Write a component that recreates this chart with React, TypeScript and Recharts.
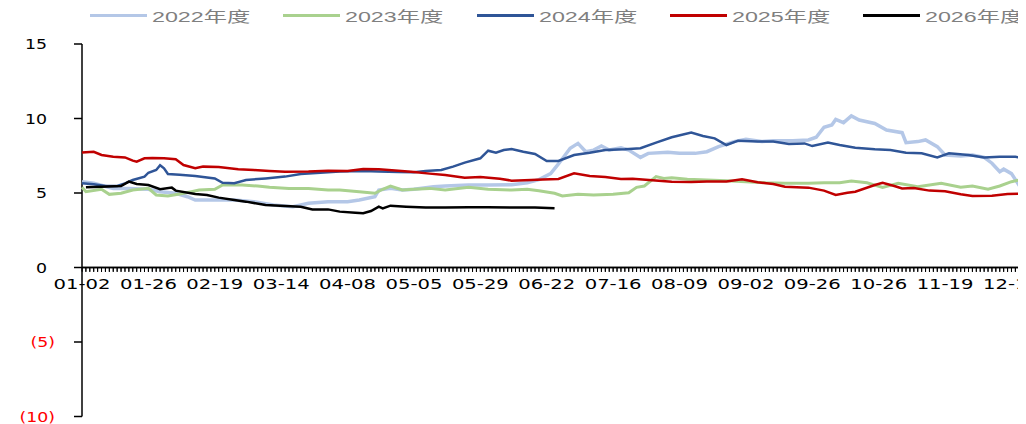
import React from 'react';
import { LineChart, Line, XAxis, YAxis } from 'recharts';

// ---- categories / ticks ----
const dateLabels = ['01-02', '01-26', '02-19', '03-14', '04-08', '05-05', '05-29', '06-22', '07-16', '08-09', '09-02', '09-26', '10-26', '11-19', '12-13'];
const labelStep = 17; // trading days between labels
const dayCount = 243; // trading-day index range
const yTicks = [-10, -5, 0, 5, 10, 15];
const yDomain: [number, number] = [-10, 15];
const yUpper: [number, number] = [0, 15];

const seriesNames = ['2022年度', '2023年度', '2024年度', '2025年度', '2026年度'];
const seriesColors = ['#B4C7E7', '#A9D18E', '#2F5597', '#C00000', '#000000'];
const seriesWidths = [3.5, 3, 2.5, 2.5, 2.5];

// ---- series values: [trading-day index, value] ----
const s2022: [number, number][] = [
  [0, 5.76], [3, 5.65], [8, 5.31], [12, 5.31], [17, 5.25], [20, 5.09], [24, 4.98], [27, 4.75], [29, 4.53], [34, 4.53],
  [39, 4.53], [44, 4.42], [49, 4.19], [54, 4.08], [58, 4.31], [63, 4.42], [68, 4.42], [71, 4.53], [75, 4.75], [76, 5.2],
  [79, 5.31], [82, 5.2], [85, 5.25], [90, 5.42], [93, 5.47], [99, 5.54], [104, 5.54], [110, 5.56], [114, 5.69], [117, 5.9],
  [120, 6.3], [122, 6.95], [125, 8.0], [127, 8.33], [129, 7.77], [131, 7.88], [133, 8.15], [135, 7.88], [138, 8.04], [140, 7.88],
  [143, 7.39], [145, 7.66], [150, 7.73], [153, 7.66], [157, 7.66], [160, 7.77], [163, 8.11], [167, 8.45], [170, 8.6], [174, 8.45],
  [177, 8.51], [182, 8.51], [186, 8.56], [188, 8.74], [190, 9.41], [192, 9.56], [193, 9.94], [195, 9.72], [197, 10.17], [199, 9.9],
  [203, 9.67], [206, 9.23], [210, 9.05], [211, 8.38], [214, 8.45], [216, 8.56], [219, 8.11], [221, 7.55], [225, 7.48], [228, 7.55],
  [231, 7.39], [233, 7.0], [235, 6.43], [236, 6.6], [238, 6.3], [240, 5.5], [241, 5.31], [242, 5.31],
];
const s2023: [number, number][] = [
  [0, 5.38], [1, 5.09], [5, 5.25], [7, 4.91], [10, 4.98], [13, 5.2], [17, 5.31], [19, 4.87], [22, 4.8], [25, 4.93],
  [28, 5.09], [30, 5.2], [34, 5.25], [36, 5.54], [41, 5.54], [45, 5.47], [48, 5.38], [53, 5.31], [58, 5.31], [63, 5.2],
  [66, 5.2], [71, 5.09], [75, 4.98], [77, 5.25], [79, 5.47], [82, 5.2], [85, 5.25], [89, 5.31], [93, 5.2], [99, 5.38],
  [104, 5.25], [110, 5.2], [114, 5.25], [117, 5.15], [121, 4.98], [123, 4.8], [127, 4.91], [131, 4.87], [136, 4.91], [140, 5.02],
  [142, 5.38], [144, 5.47], [147, 6.1], [149, 5.98], [151, 6.03], [155, 5.92], [160, 5.87], [165, 5.83], [170, 5.76], [175, 5.69],
  [180, 5.65], [186, 5.65], [190, 5.69], [194, 5.69], [197, 5.8], [201, 5.69], [205, 5.38], [209, 5.65], [214, 5.42], [220, 5.65],
  [225, 5.38], [228, 5.47], [232, 5.25], [235, 5.47], [238, 5.76], [240, 5.87], [242, 5.69],
];
const s2024: [number, number][] = [
  [0, 5.65], [3, 5.58], [6, 5.47], [9, 5.47], [11, 5.65], [13, 5.87], [16, 6.1], [17, 6.36], [19, 6.54], [20, 6.86],
  [21, 6.66], [22, 6.28], [25, 6.23], [29, 6.14], [34, 5.98], [36, 5.69], [39, 5.65], [42, 5.87], [47, 5.98], [52, 6.1],
  [56, 6.28], [59, 6.32], [63, 6.39], [66, 6.45], [72, 6.48], [76, 6.45], [81, 6.41], [85, 6.39], [88, 6.48], [92, 6.54],
  [95, 6.77], [98, 7.04], [102, 7.33], [104, 7.84], [106, 7.7], [108, 7.88], [110, 7.95], [113, 7.77], [116, 7.62], [119, 7.15],
  [122, 7.15], [126, 7.55], [130, 7.7], [134, 7.88], [139, 7.93], [143, 8.0], [147, 8.38], [151, 8.74], [156, 9.05], [159, 8.83],
  [162, 8.67], [165, 8.22], [168, 8.51], [173, 8.45], [177, 8.45], [181, 8.29], [185, 8.33], [187, 8.15], [191, 8.38], [194, 8.22],
  [198, 8.04], [203, 7.93], [207, 7.88], [211, 7.7], [215, 7.66], [219, 7.39], [222, 7.66], [227, 7.55], [231, 7.39], [235, 7.43],
  [239, 7.43], [242, 7.28],
];
const s2025: [number, number][] = [
  [0, 7.71], [3, 7.77], [5, 7.55], [8, 7.44], [11, 7.39], [13, 7.17], [14, 7.1], [16, 7.33], [18, 7.35], [21, 7.33],
  [24, 7.26], [26, 6.88], [29, 6.66], [31, 6.77], [35, 6.74], [40, 6.59], [44, 6.54], [48, 6.48], [52, 6.43], [58, 6.45],
  [63, 6.5], [68, 6.48], [72, 6.61], [76, 6.59], [81, 6.5], [85, 6.41], [89, 6.3], [93, 6.21], [98, 6.03], [102, 6.07],
  [107, 5.96], [110, 5.83], [115, 5.87], [118, 5.9], [122, 5.94], [126, 6.32], [130, 6.14], [134, 6.07], [138, 5.94], [141, 5.96],
  [146, 5.85], [151, 5.76], [156, 5.74], [160, 5.78], [165, 5.78], [169, 5.92], [173, 5.72], [177, 5.6], [180, 5.42], [186, 5.36],
  [190, 5.16], [193, 4.87], [196, 5.02], [198, 5.09], [203, 5.54], [205, 5.69], [208, 5.47], [210, 5.31], [213, 5.34], [217, 5.16],
  [221, 5.11], [225, 4.91], [228, 4.8], [233, 4.82], [237, 4.93], [242, 4.98],
];
const s2026: [number, number][] = [
  [1, 5.38], [5, 5.42], [10, 5.47], [12, 5.76], [14, 5.6], [17, 5.54], [20, 5.25], [23, 5.36], [24, 5.16], [29, 4.93],
  [32, 4.87], [35, 4.69], [39, 4.53], [42, 4.42], [47, 4.19], [52, 4.13], [56, 4.08], [59, 3.9], [63, 3.9], [66, 3.75],
  [70, 3.68], [72, 3.64], [74, 3.79], [76, 4.08], [77, 3.97], [79, 4.15], [83, 4.08], [88, 4.02], [93, 4.02], [99, 4.04],
  [104, 4.04], [110, 4.02], [116, 4.02], [121, 3.97],
];

const allSeries = [s2022, s2023, s2024, s2025, s2026];
const toRows = (pts: [number, number][]) => pts.map(([d, v]) => ({ d, v }));
const xTicks = Array.from({ length: dayCount + 1 }, (_, i) => i);
// category axis baseline (value 0 at every trading day), drawn through the chart scales
const axisRows = xTicks.map((d) => ({ d, v: 0 }));

const FONT = "'DejaVu Sans', Verdana, sans-serif";
const LEGEND_FONT = "'Liberation Sans', Arial, 'Noto Sans CJK SC', sans-serif";
const W = 1040;
const H = 416;
const LEFT = 74;
const RIGHT = 17;
const TOP = 36;
const BOTTOM = 7.5;
// the upper chart ends exactly where the value 0 sits in the full chart
const PLOT_H = H - TOP - BOTTOM;
const ZERO_Y = TOP + (PLOT_H * (yDomain[1] - 0)) / (yDomain[1] - yDomain[0]);
const X_AXIS_H = 40;
const H_UPPER = 300;

const XTick = (props: any) => {
  const { x, y, payload } = props;
  const i = payload.value as number;
  const label = i % labelStep === 0 ? dateLabels[i / labelStep] : undefined;
  if (!label) return <g />;
  return (
    <g transform={`translate(${x},${y})`}>
      <text transform="scale(1.4,1)" textAnchor="middle" dy={16} fontSize={14} fill="#000" fontFamily={FONT}>
        {label}
      </text>
    </g>
  );
};

const YTick = (props: any) => {
  const { x, y, payload } = props;
  const v = payload.value as number;
  const neg = v < 0;
  const text = neg ? `(${-v})` : `${v}`;
  return (
    <g transform={`translate(${x + (neg ? -17 : -25)},${y})`}>
      <text transform="scale(1.24,1)" textAnchor="end" dy="0.36em" fontSize={14} fill={neg ? '#FF0000' : '#000'} fontFamily={FONT}>
        {text}
      </text>
    </g>
  );
};

const TickMark = (props: any) => {
  const { cx, cy, index } = props;
  if (cx == null || cy == null) return <g key={`tm-${index}`} />;
  return <path key={`tm-${index}`} d={`M${cx},${cy}v4.5`} stroke="#000" strokeWidth={1} fill="none" />;
};

export default function App() {
  return (
    <div style={{ position: 'relative', width: 1018, height: H, overflow: 'hidden', background: '#fff' }}>
      {/* full-range value axis + category-axis baseline at 0 */}
      <div style={{ position: 'absolute', left: 0, top: 0 }}>
        <LineChart width={W} height={H} margin={{ top: TOP, right: RIGHT, left: 0, bottom: BOTTOM }}>
          <XAxis type="number" dataKey="d" domain={[0, dayCount]} hide allowDataOverflow />
          <YAxis
            type="number"
            domain={yDomain}
            ticks={yTicks}
            interval={0}
            width={LEFT}
            tickSize={8}
            axisLine={{ stroke: '#000', strokeWidth: 1.5 }}
            tickLine={{ stroke: '#000', strokeWidth: 1.5 }}
            tick={<YTick />}
            allowDataOverflow
          />
          <Line
            data={axisRows}
            dataKey="v"
            name="axis"
            stroke="#000"
            strokeWidth={1.5}
            dot={TickMark}
            activeDot={false}
            legendType="none"
            type="linear"
            isAnimationActive={false}
          />
        </LineChart>
      </div>
      {/* series + category labels crossing at 0 */}
      <div style={{ position: 'absolute', left: 0, top: 0 }}>
        <LineChart width={W} height={H_UPPER} margin={{ top: TOP, right: RIGHT, left: LEFT, bottom: H_UPPER - ZERO_Y - X_AXIS_H }}>
          <XAxis
            type="number"
            dataKey="d"
            domain={[0, dayCount]}
            ticks={xTicks}
            interval={0}
            height={X_AXIS_H}
            tickSize={4}
            axisLine={{ stroke: '#000', strokeWidth: 1.5 }}
            tickLine={{ stroke: '#000', strokeWidth: 1 }}
            tick={<XTick />}
          />
          <YAxis type="number" domain={yUpper} hide />
          {allSeries.map((s, k) => (
            <Line
              key={seriesNames[k]}
              data={toRows(s)}
              dataKey="v"
              name={seriesNames[k]}
              stroke={seriesColors[k]}
              strokeWidth={seriesWidths[k]}
              dot={false}
              type="linear"
              isAnimationActive={false}
            />
          ))}
        </LineChart>
      </div>
      {/* legend */}
      {seriesNames.map((name, k) => (
        <div
          key={name}
          style={{ position: 'absolute', left: 82 + k * 193.3, top: -3, height: 20, display: 'flex', alignItems: 'center' }}
        >
          <div style={{ width: 57, height: 3, background: seriesColors[k] }} />
          <span
            style={{
              marginLeft: 5,
              fontSize: 15,
              color: '#7F7F7F',
              fontFamily: LEGEND_FONT,
              display: 'inline-block',
              whiteSpace: 'nowrap',
              transform: 'scaleX(1.55)',
              transformOrigin: 'left center',
            }}
          >
            {name}
          </span>
        </div>
      ))}
    </div>
  );
}
